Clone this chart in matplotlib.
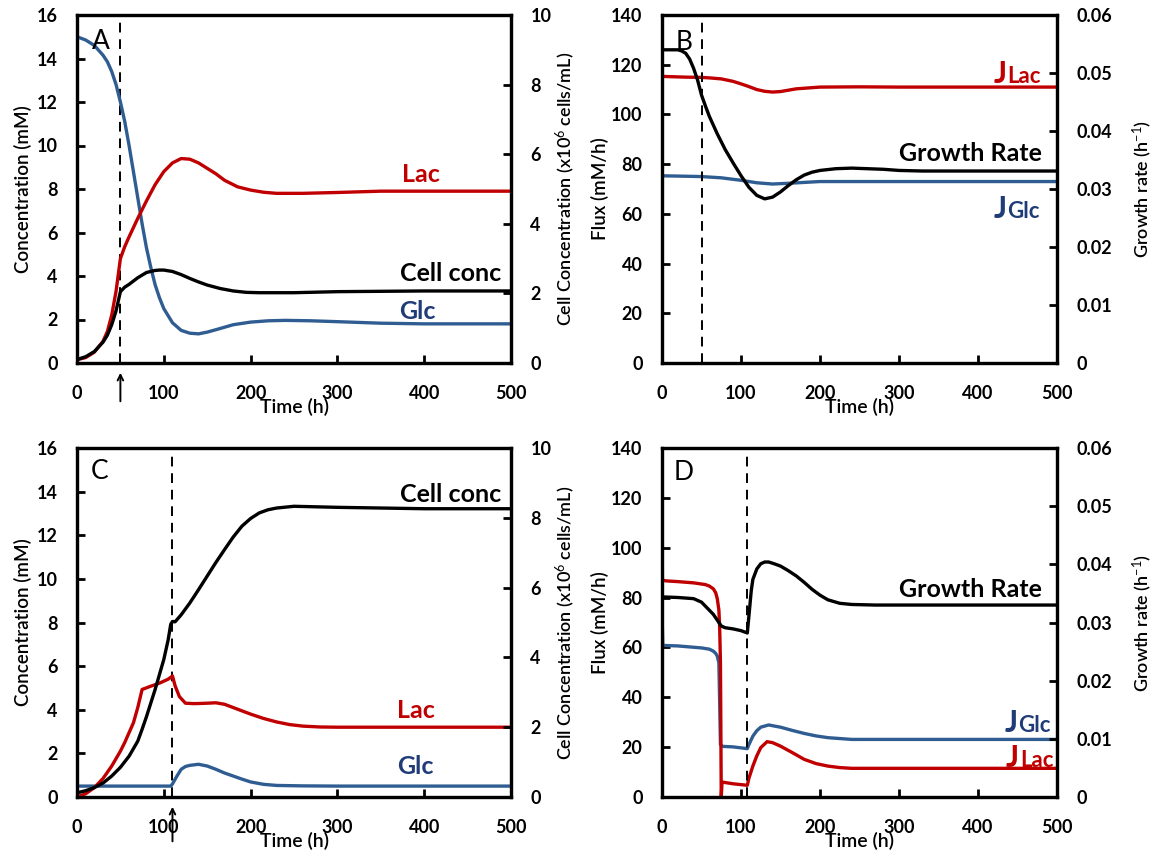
import numpy as np
import matplotlib.pyplot as plt

plt.rcParams['font.family'] = ['Lato', 'DejaVu Sans']
plt.rcParams['mathtext.fontset'] = 'custom'
plt.rcParams['mathtext.rm'] = 'Lato'
plt.rcParams['mathtext.it'] = 'Lato'
plt.rcParams['mathtext.bf'] = 'Lato:bold'

RED = "#C00000"
BLUE = "#2F5D92"
NAVY = "#1F3C78"

# ---- panel A: shift at 50 h ----
tA_glc = [0, 10, 20, 30, 35, 40, 45, 50, 55, 60, 65, 70, 75, 80, 85, 90, 95, 100, 110, 120, 130, 140, 150, 160, 180, 200, 220, 240, 270, 300, 350, 400, 500]
glcA = [15.0, 14.85, 14.6, 14.15, 13.85, 13.4, 12.8, 12.0, 11.1, 10.0, 8.8, 7.6, 6.4, 5.3, 4.4, 3.6, 3.0, 2.5, 1.85, 1.5, 1.37, 1.34, 1.42, 1.53, 1.76, 1.88, 1.94, 1.96, 1.94, 1.9, 1.83, 1.8, 1.8]
tA_lac = [0, 10, 20, 30, 35, 40, 45, 50, 55, 60, 70, 80, 90, 100, 110, 120, 130, 140, 150, 160, 170, 185, 200, 215, 230, 260, 300, 350, 400, 500]
lacA = [0.15, 0.25, 0.5, 1.0, 1.45, 2.2, 3.3, 4.8, 5.35, 5.8, 6.65, 7.45, 8.2, 8.8, 9.2, 9.4, 9.37, 9.2, 8.95, 8.7, 8.4, 8.1, 7.95, 7.85, 7.8, 7.8, 7.84, 7.9, 7.9, 7.9]
tA_cell = [0, 10, 20, 30, 35, 40, 45, 50, 55, 60, 70, 80, 90, 95, 100, 110, 120, 130, 140, 150, 165, 180, 195, 210, 250, 300, 400, 500]
cellA = [0.1, 0.18, 0.33, 0.6, 0.8, 1.1, 1.5, 2.05, 2.18, 2.26, 2.45, 2.6, 2.66, 2.67, 2.67, 2.63, 2.54, 2.43, 2.33, 2.24, 2.14, 2.07, 2.03, 2.02, 2.02, 2.05, 2.07, 2.07]

# ---- panel B: fluxes and growth rate ----
tB_lac = [0, 0, 0.5, 10, 30, 50, 60, 75, 90, 100, 110, 120, 130, 140, 150, 170, 200, 250, 300, 500]
jlacB = [88, 125, 115.3, 115.2, 115.0, 114.9, 114.7, 114.3, 113.3, 112.3, 111.2, 110.0, 109.3, 109.0, 109.2, 110.3, 111.0, 111.1, 111.0, 111.0]
tB_glc = [0, 0, 0.5, 20, 50, 75, 100, 120, 140, 160, 200, 300, 500]
jglcB = [80, 80, 75.3, 75.2, 75.0, 74.5, 73.5, 72.5, 72.0, 72.3, 73.0, 73.0, 73.0]
tB_mu = [0, 10, 20, 25, 30, 35, 40, 45, 50, 55, 60, 70, 80, 90, 100, 110, 120, 130, 140, 150, 160, 170, 180, 190, 200, 220, 240, 260, 280, 300, 330, 400, 500]
muB = [0.054, 0.054, 0.054, 0.0538, 0.0534, 0.0524, 0.0508, 0.0488, 0.0462, 0.0443, 0.0425, 0.0395, 0.0368, 0.0345, 0.0323, 0.0303, 0.0289, 0.0283, 0.0286, 0.0295, 0.0306, 0.0316, 0.0324, 0.0329, 0.0332, 0.0335, 0.0336, 0.0335, 0.0334, 0.0332, 0.0331, 0.0331, 0.0331]

# ---- panel C: shift at 110 h ----
tC_glc = [0, 50, 108, 110, 115, 120, 125, 130, 140, 150, 160, 170, 180, 190, 200, 215, 230, 260, 300, 500]
glcC = [0.5, 0.5, 0.5, 0.6, 0.95, 1.27, 1.4, 1.45, 1.5, 1.42, 1.27, 1.1, 0.96, 0.82, 0.69, 0.58, 0.53, 0.51, 0.5, 0.5]
tC_lac = [0, 10, 20, 30, 40, 50, 55, 60, 65, 70, 75, 85, 95, 105, 110, 113, 118, 125, 135, 150, 160, 170, 180, 190, 200, 215, 230, 245, 260, 280, 300, 500]
lacC = [0.0, 0.15, 0.43, 0.85, 1.42, 2.1, 2.5, 2.95, 3.4, 4.1, 4.93, 5.08, 5.22, 5.4, 5.55, 5.1, 4.6, 4.3, 4.28, 4.3, 4.32, 4.25, 4.1, 3.95, 3.8, 3.6, 3.44, 3.32, 3.25, 3.21, 3.2, 3.2]
tC_cell = [0, 10, 20, 30, 40, 50, 60, 70, 75, 80, 90, 100, 105, 108, 110, 113, 120, 130, 140, 150, 160, 170, 180, 190, 200, 210, 220, 230, 250, 300, 400, 500]
cellC = [0.12, 0.18, 0.27, 0.4, 0.6, 0.85, 1.17, 1.6, 1.94, 2.3, 3.08, 3.94, 4.5, 4.95, 5.03, 5.02, 5.22, 5.56, 5.94, 6.33, 6.72, 7.09, 7.45, 7.76, 7.98, 8.14, 8.23, 8.28, 8.33, 8.3, 8.26, 8.26]

# ---- panel D: fluxes and growth rate, shift at 108 h ----
tD_lac = [0, 0.5, 5, 20, 40, 55, 60, 65, 68, 70, 72, 73, 74, 75, 76, 90, 108, 110, 115, 120, 125, 133, 140, 150, 165, 180, 195, 210, 225, 240, 300, 500]
jlacD = [125, 87, 86.7, 86.4, 85.9, 85.2, 84.6, 83.5, 81.9, 79.5, 75, 68, 53.8, 0, 6.0, 5.3, 4.7, 7.5, 12.4, 16.5, 19.8, 22.2, 21.8, 20.4, 17.8, 15.1, 13.4, 12.4, 11.8, 11.5, 11.5, 11.5]
tD_glc = [0, 0, 1, 20, 50, 60, 65, 68, 70, 72, 74, 77, 90, 108, 110, 115, 120, 125, 135, 150, 165, 180, 195, 210, 240, 300, 500]
jglcD = [50, 74, 60.8, 60.6, 59.8, 59.3, 58.5, 57.6, 56.5, 53.8, 21, 20.3, 20.1, 19.4, 21.0, 24.4, 26.6, 28.0, 28.9, 28.0, 26.7, 25.5, 24.5, 23.8, 23.1, 23.1, 23.1]
tD_mu = [0, 20, 40, 50, 55, 60, 65, 70, 75, 80, 90, 100, 108, 110, 113, 115, 120, 125, 130, 135, 142, 150, 160, 170, 180, 190, 200, 210, 225, 240, 270, 300, 500]
muD = [0.0344, 0.0343, 0.0341, 0.0335, 0.0328, 0.0321, 0.0314, 0.0304, 0.0294, 0.0291, 0.0289, 0.0286, 0.0282, 0.0311, 0.0355, 0.0374, 0.0392, 0.0401, 0.0404, 0.0404, 0.0401, 0.0397, 0.0389, 0.0380, 0.0369, 0.0357, 0.0347, 0.0339, 0.0333, 0.0331, 0.0330, 0.0330, 0.0330]

xticks = [0, 100, 200, 300, 400, 500]

fig = plt.figure(figsize=(11.53, 8.56), dpi=100)
W, H = 1153, 856


def make_ax(l, r, t, b):
    return fig.add_axes([l / W, 1 - b / H, (r - l) / W, (b - t) / H])


def style(ax, axr, ylim, yticks, ylim_r, yticks_r, yfmt, ylab, ylab_x, rlab, rlab_x):
    for a in (ax, axr):
        for s in a.spines.values():
            s.set_linewidth(2.3)
        a.tick_params(direction="in", length=6, width=2, labelsize=13, pad=14)
    ax.tick_params(axis="x", pad=15.5)
    ax.set_xlim(0, 500)
    ax.set_xticks(xticks)
    ax.set_ylim(*ylim)
    ax.set_yticks(yticks)
    axr.set_ylim(*ylim_r)
    axr.set_yticks(yticks_r)
    axr.set_yticklabels([yfmt(v) for v in yticks_r])
    for lab in ax.get_xticklabels() + ax.get_yticklabels() + axr.get_yticklabels():
        lab.set_fontweight("bold")
    ax.set_xlabel("Time (h)", fontsize=14, fontweight="semibold")
    ax.xaxis.set_label_coords(0.5, -0.1)
    ax.set_ylabel(ylab, fontsize=13.5, fontweight="semibold")
    ax.yaxis.set_label_coords(ylab_x, 0.5)
    axr.set_ylabel(rlab, fontsize=13, fontweight="semibold")
    axr.yaxis.set_label_coords(rlab_x, 0.5)


def jlabel(ax, x, y, sub, color):
    ax.text(x, y, "J", color=color, fontsize=22, fontweight="bold", ha="right", va="baseline")
    ax.text(x + 1, y, sub, color=color, fontsize=16, fontweight="bold", ha="left", va="baseline")


def label(ax, x, y, s, color):
    ax.text(x, y, s, color=color, fontsize=18, fontweight="bold", ha="center", va="center")


conc_ticks = np.arange(0, 17, 2)
cell_ticks = np.arange(0, 11, 2)
flux_ticks = np.arange(0, 141, 20)
mu_ticks = [0, 0.01, 0.02, 0.03, 0.04, 0.05, 0.06]
cell_lab = "Cell Concentration (x10$^6$ cells/mL)"
mu_lab = "Growth rate (h$^{-1}$)"
mu_fmt = lambda v: "0" if v == 0 else f"{v:.2f}"
int_fmt = lambda v: f"{v:g}"
lw = 2.4
dash = (0, (5, 3.5))

# Panel A
axA = make_ax(77, 511, 15, 363)
axAr = axA.twinx()
axA.plot(tA_glc, glcA, color=BLUE, lw=lw, zorder=3)
axA.plot(tA_lac, lacA, color=RED, lw=lw, zorder=3)
axAr.plot(tA_cell, cellA, color="black", lw=lw)
axA.axvline(50, color="black", ls=dash, lw=1.4)
style(axA, axAr, (0, 16), conc_ticks, (0, 10), cell_ticks, int_fmt,
      "Concentration (mM)", -0.104, cell_lab, 1.097)
label(axA, 396, 8.67, "Lac", RED)
label(axA, 431, 4.13, "Cell conc", "black")
label(axA, 392, 2.37, "Glc", NAVY)
axA.text(28, 14.8, "A", fontsize=19, ha="center", va="center")
axA.annotate("", xy=(50, -0.02), xycoords=("data", "axes fraction"),
             xytext=(50, -0.118), textcoords=("data", "axes fraction"),
             arrowprops=dict(arrowstyle="->", color="black", lw=1.4))

# Panel B
axB = make_ax(662, 1057, 15, 363)
axBr = axB.twinx()
axB.plot(tB_lac, jlacB, color=RED, lw=lw)
axB.plot(tB_glc, jglcB, color=BLUE, lw=lw)
axBr.plot(tB_mu, muB, color="black", lw=lw)
axB.axvline(50, color="black", ls=dash, lw=1.4)
style(axB, axBr, (0, 140), flux_ticks, (0, 0.06), mu_ticks, mu_fmt,
      "Flux (mM/h)", -0.134, mu_lab, 1.185)
jlabel(axB, 436, 112.5, "Lac", RED)
label(axB, 390, 84.4, "Growth Rate", "black")
jlabel(axB, 436, 58.5, "Glc", NAVY)
axB.text(28, 129, "B", fontsize=19, ha="center", va="center")

# Panel C
axC = make_ax(77, 511, 448, 797)
axCr = axC.twinx()
axC.plot(tC_glc, glcC, color=BLUE, lw=lw, zorder=3)
axC.plot(tC_lac, lacC, color=RED, lw=lw, zorder=3)
axCr.plot(tC_cell, cellC, color="black", lw=lw)
axC.axvline(110, color="black", ls=dash, lw=1.4)
style(axC, axCr, (0, 16), conc_ticks, (0, 10), cell_ticks, int_fmt,
      "Concentration (mM)", -0.104, cell_lab, 1.097)
label(axC, 390, 3.97, "Lac", RED)
label(axC, 431, 13.85, "Cell conc", "black")
label(axC, 390, 1.4, "Glc", NAVY)
axC.text(26, 14.9, "C", fontsize=19, ha="center", va="center")
axC.annotate("", xy=(110, -0.02), xycoords=("data", "axes fraction"),
             xytext=(110, -0.135), textcoords=("data", "axes fraction"),
             arrowprops=dict(arrowstyle="->", color="black", lw=1.4))

# Panel D
axD = make_ax(662, 1057, 448, 797)
axDr = axD.twinx()
axD.plot(tD_glc, jglcD, color=BLUE, lw=lw)
axD.plot(tD_lac, jlacD, color=RED, lw=lw)
axDr.plot(tD_mu, muD, color="black", lw=lw)
axD.axvline(108, color="black", ls=dash, lw=1.4)
style(axD, axDr, (0, 140), flux_ticks, (0, 0.06), mu_ticks, mu_fmt,
      "Flux (mM/h)", -0.134, mu_lab, 1.185)
label(axD, 390, 83.2, "Growth Rate", "black")
jlabel(axD, 450, 26.0, "Glc", NAVY)
jlabel(axD, 452, 12.0, "Lac", RED)
axD.text(28, 130, "D", fontsize=19, ha="center", va="center")

fig.savefig("out.png", dpi=100)
